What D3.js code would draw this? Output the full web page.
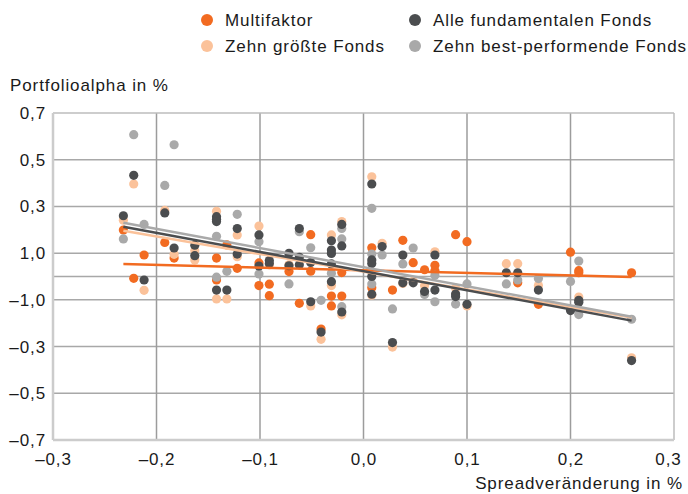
<!DOCTYPE html>
<html><head><meta charset="utf-8">
<script src="https://cdn.jsdelivr.net/npm/d3@7"></script>
<style>
html,body{margin:0;padding:0;background:#fff;}
svg text{font-family:"Liberation Sans",Arial,sans-serif;fill:#1a1a1a;}
</style></head>
<body><svg id="c" width="688" height="494"></svg>
<script>
// ---- data ----
const seriesNames = ["Multifaktor","Zehn größte Fonds","Alle fundamentalen Fonds","Zehn best-performende Fonds"];
const seriesColors = ["#f26b21","#fbc29a","#4b4d4f","#a9a9a9"];
const xTicks = [-0.3,-0.2,-0.1,0,0.1,0.2,0.3];
const xTickLabels = ["–0,3","–0,2","–0,1","0,0","0,1","0,2","0,3"];
const yTicks = [0.7,0.5,0.3,0.1,-0.1,-0.3,-0.5,-0.7];
const yTickLabels = ["0,7","0,5","0,3","1,0","–1,0","–0,3","–0,5","–0,7"];

const multifaktor = [[-0.232,0.199],[-0.222,-0.008],[-0.212,0.092],[-0.192,0.146],[-0.183,0.079],
 [-0.142,0.079],[-0.142,-0.015],[-0.132,0.135],[-0.122,0.035],[-0.101,0.058],[-0.101,-0.039],
 [-0.091,-0.033],[-0.091,-0.082],[-0.072,0.021],[-0.062,-0.115],[-0.051,0.179],[-0.051,0.023],
 [-0.041,-0.225],[-0.031,-0.084],[-0.031,-0.126],[-0.021,0.017],[-0.021,-0.084],[0.008,0.123],
 [0.008,-0.048],[0.028,-0.058],[0.038,0.155],[0.048,0.059],[0.059,0.029],[0.069,0.048],[0.069,0.025],
 [0.089,0.179],[0.1,0.149],[0.149,-0.027],[0.169,-0.119],[0.2,0.104],[0.208,0.025],[0.208,0.016],[0.259,0.016]];
const zehnGroesste = [[-0.232,0.241],[-0.222,0.396],[-0.212,-0.059],[-0.192,0.283],[-0.183,0.095],
 [-0.163,0.11],[-0.163,0.071],[-0.142,0.279],[-0.142,-0.096],[-0.132,-0.096],[-0.122,0.178],[-0.122,0.085],
 [-0.101,0.216],[-0.091,0.05],[-0.072,0.05],[-0.051,-0.126],[-0.041,-0.269],[-0.031,0.178],[-0.031,-0.039],
 [-0.021,0.235],[-0.021,-0.164],[0.008,0.427],[0.008,-0.08],[0.018,0.142],[0.028,-0.302],[0.038,-0.03],
 [0.048,-0.02],[0.059,-0.039],[0.069,0.106],[0.089,-0.05],[0.1,-0.126],[0.138,0.055],[0.149,0.055],
 [0.169,-0.039],[0.208,-0.088],[0.259,-0.348]];
const alleFonds = [[-0.232,0.26],[-0.222,0.433],[-0.212,-0.015],[-0.192,0.272],[-0.183,0.122],
 [-0.163,0.134],[-0.163,0.089],[-0.142,0.256],[-0.142,0.245],[-0.142,0.235],[-0.142,-0.058],[-0.132,-0.058],
 [-0.122,0.205],[-0.122,0.096],[-0.101,0.178],[-0.101,0.045],[-0.091,0.068],[-0.091,0.056],[-0.072,0.099],
 [-0.072,0.046],[-0.062,0.205],[-0.062,0.082],[-0.062,0.05],[-0.051,0.06],[-0.051,-0.108],[-0.041,-0.238],
 [-0.031,0.153],[-0.031,0.113],[-0.031,0.099],[-0.031,0.054],[-0.031,-0.022],[-0.021,0.223],[-0.021,0.131],
 [-0.021,-0.152],[0.008,0.396],[0.008,0.071],[0.008,0.056],[0.008,0.0],[0.008,-0.076],[0.018,0.128],
 [0.028,-0.283],[0.038,0.092],[0.038,-0.027],[0.048,-0.027],[0.059,-0.064],[0.069,0.092],[0.069,-0.058],
 [0.089,-0.075],[0.089,-0.086],[0.1,-0.119],[0.138,0.016],[0.149,0.016],[0.169,-0.058],[0.2,-0.146],
 [0.208,-0.102],[0.208,-0.11],[0.259,-0.36]];
const bestFonds = [[-0.232,0.161],[-0.222,0.607],[-0.212,0.223],[-0.192,0.39],[-0.183,0.564],
 [-0.142,0.172],[-0.142,-0.003],[-0.132,0.022],[-0.122,0.266],[-0.101,0.149],[-0.101,0.011],[-0.072,-0.032],
 [-0.062,0.192],[-0.051,0.123],[-0.041,-0.102],[-0.031,0.014],[-0.021,0.206],[-0.021,0.161],[-0.021,-0.129],
 [0.008,0.292],[0.008,0.096],[0.008,-0.032],[0.018,0.092],[0.028,-0.139],[0.038,0.054],[0.048,0.122],
 [0.059,-0.077],[0.069,0.005],[0.069,-0.108],[0.089,-0.118],[0.1,-0.032],[0.138,-0.032],[0.149,-0.015],
 [0.169,-0.009],[0.2,-0.021],[0.208,0.066],[0.208,-0.163],[0.259,-0.183]];

const trendX = [-0.232, 0.259];
const trendMulti = [0.053, -0.002];
const trendGroesste = [0.196, -0.176];
const trendAlle = [0.213, -0.189];
const trendBest = [0.230, -0.172];

// ---- chart ----
const svg = d3.select("#c");
const L = 53, R = 674, T = 113, B = 440;
const x = d3.scaleLinear().domain([-0.3,0.3]).range([L,R]);
const y = d3.scaleLinear().domain([-0.7,0.7]).range([B,T]);
const FS = "17px", LS = "0.9px";

// grid horizontal
svg.append("g").selectAll("line").data([0.5,0.3,0.1,0,-0.1,-0.3,-0.5]).join("line")
 .attr("x1",L).attr("x2",R).attr("y1",d=>y(d)).attr("y2",d=>y(d))
 .attr("stroke","#a8a8a8").attr("stroke-width",1.5);
// grid vertical
svg.append("g").selectAll("line").data([-0.2,-0.1,0,0.1,0.2]).join("line")
 .attr("x1",d=>x(d)).attr("x2",d=>x(d)).attr("y1",T).attr("y2",B)
 .attr("stroke","#9c9c9c").attr("stroke-width",1.5);
// frame
svg.append("line").attr("x1",L).attr("x2",R).attr("y1",T).attr("y2",T).attr("stroke","#bdbdbd").attr("stroke-width",1.5);
svg.append("line").attr("x1",R).attr("x2",R).attr("y1",T).attr("y2",B).attr("stroke","#bdbdbd").attr("stroke-width",1.5);
svg.append("line").attr("x1",L).attr("x2",L).attr("y1",T).attr("y2",B).attr("stroke","#cccccc").attr("stroke-width",2.5);
svg.append("line").attr("x1",L).attr("x2",R).attr("y1",B).attr("y2",B).attr("stroke","#cccccc").attr("stroke-width",2.5);

// axes
const yAxis = d3.axisLeft(y).tickValues(yTicks).tickSize(0).tickPadding(7)
 .tickFormat((d,i)=>yTickLabels[i]);
const gy = svg.append("g").attr("transform",`translate(${L},0)`).call(yAxis);
gy.select(".domain").remove();
gy.selectAll("text").style("font-size",FS).style("letter-spacing",LS).attr("fill","#1a1a1a")
 .style("font-family","'Liberation Sans',Arial,sans-serif");

const xAxis = d3.axisBottom(x).tickValues(xTicks).tickSize(0).tickPadding(13)
 .tickFormat((d,i)=>xTickLabels[i]);
const gx = svg.append("g").attr("transform",`translate(0,${B})`).call(xAxis);
gx.select(".domain").remove();
gx.selectAll("text").style("font-size",FS).style("letter-spacing",LS).attr("fill","#1a1a1a")
 .style("font-family","'Liberation Sans',Arial,sans-serif");
gx.selectAll(".tick").filter((d,i)=>i===xTicks.length-1).select("text").attr("dx",-6);

// titles
svg.append("text").attr("x",10).attr("y",91).text("Portfolioalpha in %")
 .style("font-size",FS).style("letter-spacing",LS);
svg.append("text").attr("x",683).attr("y",489).attr("text-anchor","end").text("Spreadveränderung in %")
 .style("font-size",FS).style("letter-spacing",LS);

// dots
const allSeries = [multifaktor, zehnGroesste, bestFonds, alleFonds];
const colorsByDraw = [seriesColors[0], seriesColors[1], seriesColors[3], seriesColors[2]];
allSeries.forEach((s,k)=>{
 svg.append("g").selectAll("circle").data(s).join("circle")
  .attr("cx",d=>x(d[0])).attr("cy",d=>y(d[1])).attr("r",4.6).attr("fill",colorsByDraw[k]);
});

// trend lines
const trends = [[trendMulti,seriesColors[0]],[trendGroesste,seriesColors[1]],[trendBest,seriesColors[3]],[trendAlle,seriesColors[2]]];
const line = d3.line().x(d=>x(d[0])).y(d=>y(d[1]));
trends.forEach(([t,c])=>{
 svg.append("path").datum(trendX.map((xv,i)=>[xv,t[i]])).attr("d",line)
  .attr("fill","none").attr("stroke",c).attr("stroke-width",2.5);
});

// legend
const legPos = [[207,20],[207,46],[415,20],[415,46]];
const lg = svg.append("g");
seriesNames.forEach((n,i)=>{
 const [cx,cy] = legPos[i];
 lg.append("circle").attr("cx",cx).attr("cy",cy).attr("r",6).attr("fill",seriesColors[i]);
 lg.append("text").attr("x",cx+18).attr("y",cy+6).text(n).style("font-size",FS).style("letter-spacing",LS);
});
</script></body></html>
